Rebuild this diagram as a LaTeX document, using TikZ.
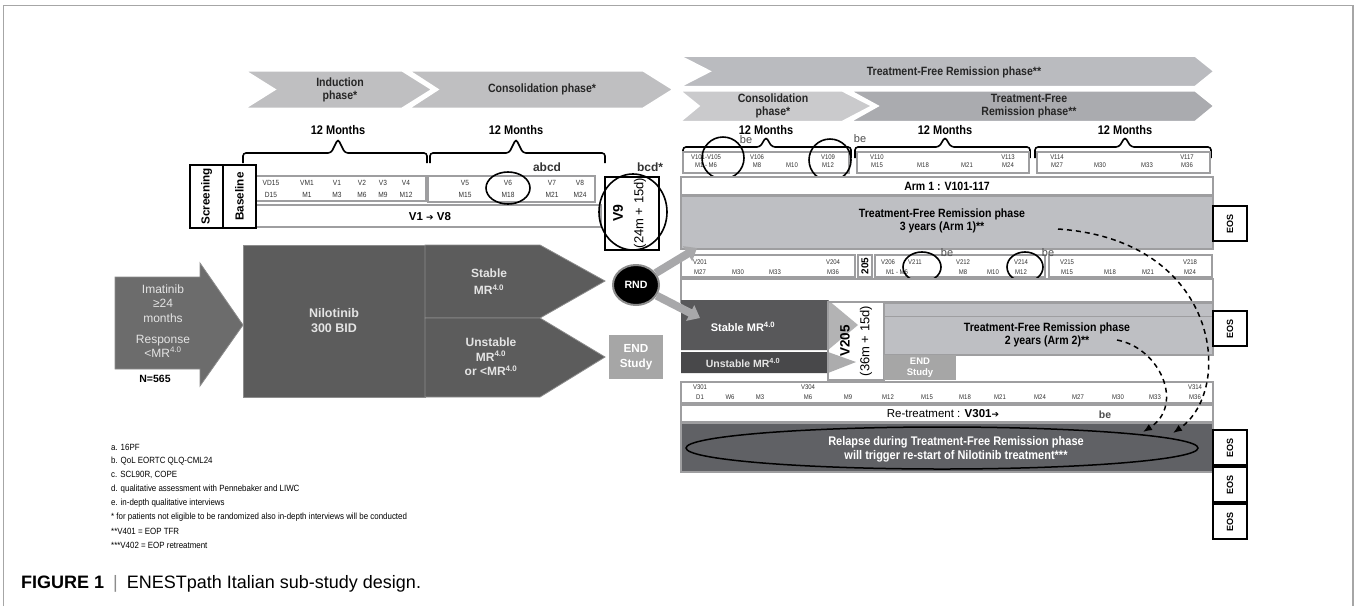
\documentclass[tikz,border=0pt]{standalone}
\usepackage{fontspec}
\setmainfont{Liberation Sans}
\newfontfamily\narrow[FakeStretch=0.88]{Liberation Sans}
\newfontfamily\arrowfont{DejaVu Sans}
\usepackage{tikz}
\usetikzlibrary{arrows.meta,shapes.geometric}

\definecolor{chevgray}{RGB}{191,191,193}
\definecolor{tfrgray}{RGB}{186,187,191}
\definecolor{tfrdark}{RGB}{170,171,175}
\definecolor{consgray}{RGB}{202,202,204}
\definecolor{boxgray}{RGB}{190,191,195}
\definecolor{rowline}{RGB}{158,158,160}
\definecolor{flowdark}{RGB}{92,92,92}
\definecolor{imagray}{RGB}{108,108,108}
\definecolor{flowline}{RGB}{140,140,140}
\definecolor{flowlight}{RGB}{228,228,228}
\definecolor{endgray}{RGB}{166,166,166}
\definecolor{arrgray}{RGB}{168,168,170}
\definecolor{stabledark}{RGB}{88,88,90}
\definecolor{unstabledark}{RGB}{72,72,74}
\definecolor{relapsegray}{RGB}{96,97,101}

\begin{document}
\begin{tikzpicture}[x=1pt,y=-1pt,
  chev/.style={draw=white,line width=1.6pt,fill=chevgray},
  phase/.style={font=\narrow\bfseries\fontsize{12}{13}\selectfont,align=center,inner sep=0pt,text=black!85},
  months/.style={font=\narrow\bfseries\fontsize{12.5}{13}\selectfont,inner sep=0pt},
  bracket/.style={line width=1.6pt,rounded corners=3pt},
  visit/.style={font=\narrow\fontsize{7.5}{8}\selectfont,inner sep=0pt,text=black!80},
  rvisit/.style={font=\narrow\fontsize{6.8}{7}\selectfont,inner sep=0pt,text=black!80},
  rowbox/.style={draw=rowline,line width=1.2pt,fill=white},
  solidbox/.style={draw=black,line width=1.4pt,fill=white},
  ring/.style={draw=black,line width=1.6pt},
  tag/.style={font=\bfseries\fontsize{12}{12}\selectfont,inner sep=0pt,text=black!80},
  bemark/.style={font=\fontsize{11}{11}\selectfont,inner sep=0pt,text=black!70},
  boxtext/.style={font=\narrow\bfseries\fontsize{12}{13}\selectfont,align=center,inner sep=0pt},
  flow/.style={fill=flowdark,draw=flowline,line width=.8pt},
  flowtext/.style={font=\fontsize{12}{14.5}\selectfont,align=center,inner sep=0pt,text=flowlight},
  eos/.style={draw=black,line width=1.3pt,fill=white,rotate=90,minimum width=35pt,minimum height=34pt,inner sep=0pt,font=\bfseries\fontsize{9}{10}\selectfont},
  blockarr/.style={line width=8pt,draw=arrgray,-{Triangle[length=11pt,width=17pt]}},
  relapsearr/.style={line width=1.5pt,dash pattern=on 5pt off 4pt,-{Latex[length=9pt,width=7pt]}},
  note/.style={font=\narrow\fontsize{9}{9}\selectfont,anchor=west,inner sep=0pt}
]
\useasboundingbox (0,0) rectangle (1356,606);
\draw[black!35,line width=1.2pt] (3.5,606) -- (3.5,5.8) -- (1353,5.8) -- (1353,606);

\draw[chev] (245,70.7) -- (402,70.7) -- (432,89.5) -- (402,108.3) -- (245,108.3) -- (275,89.5) -- cycle;
\draw[chev] (409,70.7) -- (643,70.7) -- (673,89.5) -- (643,108.3) -- (409,108.3) -- (438,89.5) -- cycle;
\node[phase] (induction) at (340,89.5) {Induction\\phase*};
\node[phase] (consone) at (542,89.5) {Consolidation phase*};

\draw[chev,fill=tfrgray] (680,56) -- (1195,56) -- (1214,71.3) -- (1195,86.7) -- (680,86.7) -- (710,71.3) -- cycle;
\draw[chev,fill=consgray] (680,90.7) -- (842,90.7) -- (872,106) -- (842,121.7) -- (680,121.7) -- (699,106) -- cycle;
\draw[chev,fill=tfrdark] (850,90.7) -- (1195,90.7) -- (1214,106) -- (1195,121.7) -- (850,121.7) -- (878,106) -- cycle;
\node[phase] (tfrtop) at (954,72) {Treatment-Free Remission phase**};
\node[phase] (constwo) at (773,106) {Consolidation\\phase*};
\node[phase] (tfrtwo) at (1029,106) {Treatment-Free\\Remission phase**};

\foreach \x [count=\i] in {338,516,766,945,1125}
  \node[months] (months\i) at (\x,130) {12 Months};
\foreach \a/\b/\t in {243/427/338, 430/605/516}
  \draw[bracket] (\a,163) -- (\a,153) -- (\t-7,153) -- (\t,139) -- (\t+7,153) -- (\b,153) -- (\b,163);
\foreach \a/\b/\t in {683/851/766, 855/1030/945, 1035/1211/1125}
  \draw[bracket] (\a,158) -- (\a,147) -- (\t-6,147) -- (\t,137) -- (\t+6,147) -- (\b,147) -- (\b,158);

\draw[rowbox] (256,176) rectangle (426,201);
\draw[rowbox] (428,176) rectangle (595,202);
\foreach \x/\v/\m [count=\i] in {271/VD15/D15, 307/VM1/M1, 337/V1/M3, 362/V2/M6, 383/V3/M9, 406/V4/M12, 465/V5/M15, 508/V6/M18, 552/V7/M21, 580/V8/M24} {
  \node[visit] (lv\i) at (\x,183) {\v};
  \node[visit] (lm\i) at (\x,194.5) {\m};
}
\draw[rowbox] (256,205) rectangle (601,227);
\node[font=\bfseries\fontsize{11.5}{12}\selectfont,inner sep=0pt] (vonevight) at (430,216.5) {V1 {\arrowfont\fontsize{9}{9}\selectfont ➔} V8};
\node[solidbox,rotate=90,minimum width=63pt,minimum height=33pt,inner sep=0pt,font=\bfseries\fontsize{11.7}{12}\selectfont] (screening) at (206.5,196.5) {Screening};
\node[solidbox,rotate=90,minimum width=63pt,minimum height=33pt,inner sep=0pt,font=\bfseries\fontsize{11.7}{12}\selectfont] (baseline) at (239.5,196.5) {Baseline};
\draw[ring] (508,188) ellipse [x radius=22, y radius=16];
\node[tag] (abcd) at (547,167) {abcd};
\node[tag] (bcd) at (650,167) {bcd*};

\draw[solidbox] (605,177) rectangle (659,250);
\node[rotate=90,inner sep=0pt,font=\bfseries\fontsize{14}{14}\selectfont] (vnine) at (618,213) {V9};
\node[rotate=90,inner sep=0pt,font=\fontsize{13}{13}\selectfont] (vninetime) at (640,213) {(24m + 15d)};
\draw[ring] (633,212) ellipse [x radius=34, y radius=38];

\draw[flow,fill=imagray] (115,277) -- (200,277) -- (200,263) -- (243,325) -- (200,386) -- (200,369) -- (115,369) -- cycle;
\node[flowtext] (imatinib) at (163,303.5) {Imatinib\\≥24\\months};
\node[flowtext,font=\fontsize{12}{14}\selectfont] (response) at (163,346) {Response\\<MR\textsuperscript{4.0}};
\node[font=\bfseries\fontsize{10.5}{11}\selectfont,inner sep=0pt] (nfive) at (155,379) {N=565};
\draw[flow] (243,245) rectangle (425,397);
\draw[flow] (425,245) -- (540,245) -- (605,281) -- (540,318) -- (425,318) -- cycle;
\draw[flow] (425,318) -- (540,318) -- (605,357) -- (540,397) -- (425,397) -- cycle;
\node[flowtext,font=\bfseries\fontsize{12.5}{15}\selectfont] (nilotinib) at (334,320.5) {Nilotinib\\300 BID};
\node[flowtext,font=\bfseries\fontsize{12}{17}\selectfont] (stableone) at (489,281.5) {Stable\\MR\textsuperscript{4.0}};
\node[flowtext,font=\bfseries\fontsize{12}{14.3}\selectfont] (unstableone) at (491,357) {Unstable\\MR\textsuperscript{4.0}\\or <MR\textsuperscript{4.0}};
\node[fill=endgray,minimum width=54pt,minimum height=44pt,inner sep=0pt,align=center,text=white,font=\bfseries\fontsize{11.7}{14.5}\selectfont] (endone) at (636,357) {END\\Study};
\node[ellipse,fill=black,draw=black!45,line width=2pt,minimum width=46pt,minimum height=40pt,inner sep=0pt,text=white,font=\bfseries\fontsize{10.6}{11}\selectfont] (rnd) at (636,285) {RND};

\draw[rowbox] (683,152) rectangle (849,173);
\draw[rowbox] (857,152) rectangle (1029,173);
\draw[rowbox] (1037,152) rectangle (1210,173);
\foreach \x/\v/\m [count=\i] in {706/V101-V105/M1 - M6, 757/V106/M8, 792//M10, 828/V109/M12, 877/V110/M15, 923//M18, 967//M21, 1008/V113/M24, 1057/V114/M27, 1100//M30, 1147//M33, 1187/V117/M36} {
  \node[rvisit] (av\i) at (\x,157) {\v};
  \node[rvisit] (am\i) at (\x,165.5) {\m};
}
\draw[ring] (723,158) circle (21);
\draw[ring] (830,160) circle (21);
\node[bemark] (beone) at (746,140) {be};
\node[bemark] (betwo) at (860,139) {be};

\draw[rowbox] (681,177) rectangle (1213,195);
\node[boxtext] (armone) at (947,186.5) {Arm 1 : V101-117};
\draw[rowbox,fill=boxgray] (681,196) rectangle (1213,249);
\node[boxtext] (tfrarmone) at (942,221) {Treatment-Free Remission phase\\3 years (Arm 1)**};
\node[eos] (eosone) at (1230,223.5) {EOS};

\draw[rowbox] (681,255) rectangle (855,277);
\draw[rowbox] (875,255) rectangle (1045,277);
\draw[rowbox] (1049,255) rectangle (1212,277);
\node[draw=rowline,line width=1.2pt,rotate=90,minimum width=22pt,minimum height=14pt,inner sep=0pt,font=\bfseries\fontsize{10}{10}\selectfont] (vtwofive) at (865,266) {205};
\foreach \x/\v/\m [count=\i] in {700/V201/M27, 738//M30, 775//M33, 833/V204/M36, 888/V206/, 915/V211/, 897//M1 - M6, 963/V212/M8, 993//M10, 1021/V214/M12, 1067/V215/M15, 1110//M18, 1148//M21, 1190/V218/M24} {
  \node[rvisit] (bv\i) at (\x,262) {\v};
  \node[rvisit] (bm\i) at (\x,272) {\m};
}
\draw[ring] (922,267) ellipse [x radius=19, y radius=15];
\draw[ring] (1025,267) ellipse [x radius=18, y radius=15];
\node[bemark] (bethree) at (947,253) {be};
\node[bemark] (befour) at (1048,253) {be};

\draw[rowbox] (681,279) rectangle (1213,302);
\draw[rowbox,fill=boxgray] (884,303) rectangle (1213,355);
\draw[rowline,line width=1pt] (884,316) -- (1213,316);
\node[boxtext] (tfrarmtwo) at (1047,334.5) {Treatment-Free Remission phase\\2 years (Arm 2)**};
\node[eos] (eostwo) at (1230,328.5) {EOS};

\fill[stabledark] (681,300) -- (828,300) -- (858,325) -- (828,350) -- (681,350) -- cycle;
\fill[unstabledark] (681,352) -- (828,352) -- (856,362) -- (828,373) -- (681,373) -- cycle;
\draw[draw=rowline,line width=1.2pt,fill=white,fill opacity=0.55] (828,302) rectangle (884,380);
\node[boxtext,text=white,font=\bfseries\fontsize{11}{12}\selectfont] (stabletwo) at (743,327) {Stable MR\textsuperscript{4.0}};
\node[boxtext,text=flowlight,font=\bfseries\fontsize{10.5}{11}\selectfont] (unstabletwo) at (743,362.5) {Unstable MR\textsuperscript{4.0}};
\node[rotate=90,inner sep=0pt,font=\bfseries\fontsize{13.5}{14}\selectfont] (vtwofivebig) at (845,341) {V205};
\node[rotate=90,inner sep=0pt,font=\fontsize{13}{13}\selectfont] (vtwofivetime) at (866,341) {(36m + 15d)};
\node[fill=endgray,minimum width=72pt,minimum height=25pt,inner sep=0pt,align=center,text=white,font=\bfseries\fontsize{9.5}{11.5}\selectfont] (endtwo) at (920,367.5) {END\\Study};

\coordinate (armone-in) at (697,248);
\coordinate (stable-in) at (700,318);
\draw[blockarr] (rnd) -- (armone-in);
\draw[blockarr] (rnd) -- (stable-in);

\draw[rowbox] (681,382) rectangle (1213,403);
\foreach \x/\v/\m [count=\i] in {700/V301/D1, 730//W6, 760//M3, 808/V304/M6, 848//M9, 888//M12, 927//M15, 965//M18, 1000//M21, 1040//M24, 1078//M27, 1118//M30, 1155//M33, 1195/V314/M36} {
  \node[rvisit] (cv\i) at (\x,387) {\v};
  \node[rvisit] (cm\i) at (\x,397) {\m};
}
\draw[rowbox] (681,405) rectangle (1213,422);
\node[font=\fontsize{11.5}{12}\selectfont,inner sep=0pt] (retreat) at (943,413.5) {Re-treatment : \textbf{V301}{\arrowfont\fontsize{9}{9}\selectfont ➔}};
\node[bemark,font=\bfseries\fontsize{10.5}{11}\selectfont] (befive) at (1105,415) {be};

\draw[draw=rowline,line width=1.2pt,fill=relapsegray] (681,423) rectangle (1213,472);
\node[ellipse,draw=black,line width=1.5pt,minimum width=512pt,minimum height=42pt,inner sep=0pt] (relapse) at (942,448) {};
\node[boxtext,text=white,font=\narrow\bfseries\fontsize{12.5}{14}\selectfont] (relapsetxt) at (956,449) {Relapse during Treatment-Free Remission phase\\will trigger re-start of Nilotinib treatment***};

\coordinate (dashone-from) at (1058,229);
\coordinate (dashone-to) at (1173,433);
\coordinate (dashtwo-from) at (1117,340);
\coordinate (dashtwo-to) at (1143,432);
\draw[relapsearr] (dashone-from) .. controls (1220,240) and (1235,390) .. (dashone-to);
\draw[relapsearr] (dashtwo-from) .. controls (1160,348) and (1185,405) .. (dashtwo-to);

\node[eos] (eosthree) at (1230,447.5) {EOS};
\node[eos] (eosfour) at (1230,484.5) {EOS};
\node[eos] (eosfive) at (1230,521.5) {EOS};

\foreach \t [count=\i] in {{a. 16PF}, {b. QoL EORTC QLQ-CML24}, {c. SCL90R, COPE}, {d. qualitative assessment with Pennebaker and LIWC}, {e. in-depth qualitative interviews}, {* for patients not eligible to be randomized also in-depth interviews will be conducted}, {**V401 = EOP TFR}, {***V402 = EOP retreatment}}
  \node[note] (note\i) at (111,433+\i*14) {\t};

\node[anchor=west,inner sep=0pt,font=\fontsize{18}{18}\selectfont] (caption) at (21,584) {\textbf{FIGURE 1}\enspace\textcolor{black!45}{|}\enspace ENESTpath Italian sub-study design.};
\end{tikzpicture}
\end{document}
